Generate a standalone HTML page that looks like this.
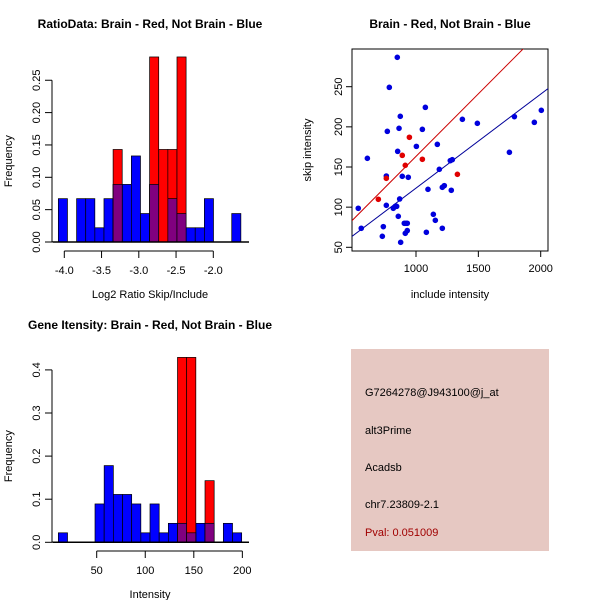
<!DOCTYPE html>
<html><head><meta charset="utf-8"><style>
body{margin:0;background:#fff}
svg{display:block;font-family:"Liberation Sans",sans-serif}
</style></head><body>
<svg id="c" width="600" height="600" viewBox="0 0 600 600">
<rect width="600" height="600" fill="#fff"/>
<g id="p1"></g>
<g id="p2"></g>
<g id="p3"></g>
<g>
<rect x="351" y="349" width="198" height="202" fill="#e6c8c2"/>
<text x="365" y="396" font-size="11" fill="#000">G7264278@J943100@j_at</text>
<text x="365" y="434" font-size="11" fill="#000">alt3Prime</text>
<text x="365" y="471" font-size="11" fill="#000">Acadsb</text>
<text x="365" y="508" font-size="11" fill="#000">chr7.23809-2.1</text>
<text x="365" y="536" font-size="11" fill="#a00000">Pval: 0.051009</text>
</g>
</svg>
<script>
// ---- Chart 1 data ----
const ratioStart = -4.08;
const ratioBinWidth = 0.1225;
const ratioBlue = [0.067,0,0.067,0.067,0.022,0.067,0.089,0.089,0.133,0.044,0.089,0,0.067,0.044,0.022,0.022,0.067,0,0,0.044];
const ratioRed  = [0,0,0,0,0,0,0.143,0,0,0,0.286,0.143,0.143,0.286,0,0,0,0,0,0];
const ratioXTicks = [-4.0,-3.5,-3.0,-2.5,-2.0];
const ratioXLabels = ["-4.0","-3.5","-3.0","-2.5","-2.0"];
const ratioYTicks = [0,0.05,0.10,0.15,0.20,0.25];
const ratioYLabels = ["0.00","0.05","0.10","0.15","0.20","0.25"];
// ---- Chart 3 data ----
const intStart = 10.5;
const intBinWidth = 9.44;
const intBlue = [0.022,0,0,0,0.089,0.178,0.111,0.111,0.089,0.022,0.089,0.022,0.044,0.044,0.022,0.044,0.044,0,0.044,0.022];
const intRed  = [0,0,0,0,0,0,0,0,0,0,0,0,0,0.429,0.429,0,0.143,0,0,0];
const intXTicks = [50,100,150,200];
const intYTicks = [0,0.1,0.2,0.3,0.4];
const intYLabels = ["0.0","0.1","0.2","0.3","0.4"];
// ---- Chart 2 data ----
const blueX = [537,561,610,738,730,762,770,786,818,834,845,850,853,858,864,869,874,890,906,914,920,930,930,938,877,1003,1051,1075,1083,1096,1139,1155,1171,1187,1211,1211,1227,1275,1283,1291,1372,1492,1749,1789,1949,2005,762];
const blueY = [98.6,73.7,160.8,75.7,63.7,138.8,194.4,249.2,98.6,101,101,286.6,169.5,88.6,198.2,110.2,213.1,138.4,79.9,67.4,79.9,79.9,70.8,137.2,56.2,175.7,196.9,224.3,68.7,122.2,91.1,83.6,178.2,147.1,73.7,124.7,126.8,157.9,121,159.1,209.4,204.4,168.3,212.7,205.6,220.6,102.3];
const redX = [698,762,890,914,947,1051,1332];
const redY = [109.8,135.9,164.5,152.1,187,159.6,140.9];
const fitSlope = [0.1558, 0.117];
const fitIntercept = [7.4, 6.7];
const scatXTicks = [1000,1500,2000];
const scatYTicks = [50,100,150,200,250];

const NS="http://www.w3.org/2000/svg";
function mk(parent,tag,attrs,txt){const e=document.createElementNS(NS,tag);for(const k in attrs)e.setAttribute(k,attrs[k]);if(txt!==undefined)e.textContent=txt;parent.appendChild(e);return e;}

function histogram(g,cfg){
  const sx=v=>cfg.x0+(v-cfg.d0)*cfg.kx, sy=v=>cfg.y0-v*cfg.ky;
  cfg.blue.forEach((v,i)=>{ if(v<=0)return;
    const a=cfg.start+i*cfg.bw,b=a+cfg.bw;
    const r=mk(g,'rect',{x:sx(a),y:sy(v),width:sx(b)-sx(a),height:sy(0)-sy(v),fill:'#0000ff',stroke:'#000','stroke-width':0.7});
    
    
  });
  cfg.red.forEach((v,i)=>{ if(v<=0)return;
    const a=cfg.start+i*cfg.bw,b=a+cfg.bw;
    const r=mk(g,'rect',{x:sx(a),y:sy(v),width:sx(b)-sx(a),height:sy(0)-sy(v),fill:'#ff0000',stroke:'#000','stroke-width':0.7});
    
    
    const m=Math.min(v,cfg.blue[i]);
    if(m>0){const p=mk(g,'rect',{x:sx(a),y:sy(m),width:sx(b)-sx(a),height:sy(0)-sy(m),fill:'#80007f',stroke:'#000','stroke-width':0.7});
      
      }
  });
  // baseline
  mk(g,'line',{x1:cfg.x0-6+ (sx(cfg.start)-cfg.x0),x2:cfg.xEnd,y1:sy(0),y2:sy(0),stroke:'#000','stroke-width':1.5});
  // y axis
  const ya=mk(g,'line',{x1:cfg.yAxisX,x2:cfg.yAxisX,y1:sy(cfg.yt[0]),y2:sy(cfg.yt[cfg.yt.length-1]),stroke:'#000','stroke-width':1});
  
  
  cfg.yt.forEach((t,i)=>{
    mk(g,'line',{x1:cfg.yAxisX-7,x2:cfg.yAxisX,y1:sy(t),y2:sy(t),stroke:'#000'});
    const tx=mk(g,'text',{x:cfg.yAxisX-12,y:sy(t),'font-size':11,'text-anchor':'middle',transform:`rotate(-90 ${cfg.yAxisX-12} ${sy(t)})`},cfg.yl[i]);
    
    
  });
  const xa=mk(g,'line',{x1:sx(cfg.xt[0]),x2:sx(cfg.xt[cfg.xt.length-1]),y1:cfg.xAxisY,y2:cfg.xAxisY,stroke:'#000'});
  
  
  cfg.xt.forEach((t,i)=>{
    mk(g,'line',{x1:sx(t),x2:sx(t),y1:cfg.xAxisY,y2:cfg.xAxisY+7,stroke:'#000'});
    const tx=mk(g,'text',{x:sx(t),y:cfg.xAxisY+23,'font-size':11,'text-anchor':'middle'},cfg.xl[i]);
    
    
  });
  const ti=mk(g,'text',{x:cfg.tx,y:cfg.ty,'font-size':12,'font-weight':'bold','text-anchor':'middle'},cfg.title);
  
  
  const xt=mk(g,'text',{x:cfg.tx,y:cfg.xAxisY+47,'font-size':11,'text-anchor':'middle'},cfg.xlabel);
  
  
  const yy=(sy(0)+sy(cfg.yt[cfg.yt.length-1]))/2;
  const yt=mk(g,'text',{x:12,y:yy,'font-size':11,'text-anchor':'middle',transform:`rotate(-90 12 ${yy})`},'Frequency');
  
  
}

histogram(document.getElementById('p1'),{x0:64.3,d0:-4.0,kx:74.5,y0:242,ky:647,start:ratioStart,bw:ratioBinWidth,
  blue:ratioBlue,red:ratioRed,xt:ratioXTicks,xl:ratioXLabels,yt:ratioYTicks,yl:ratioYLabels,yAxisX:52,xAxisY:251,xEnd:249,
  tx:150,ty:28,title:'RatioData: Brain - Red, Not Brain - Blue',xlabel:'Log2 Ratio Skip/Include'});
histogram(document.getElementById('p3'),{x0:96.7,d0:50,kx:0.971,y0:542.3,ky:431,start:intStart,bw:intBinWidth,
  blue:intBlue,red:intRed,xt:intXTicks,xl:intXTicks.map(String),yt:intYTicks,yl:intYLabels,yAxisX:52,xAxisY:551,xEnd:249,
  tx:150,ty:329,title:'Gene Itensity: Brain - Red, Not Brain - Blue',xlabel:'Intensity'});

// scatter
(function(){
  const g=document.getElementById('p2');
  const L=352,R=548,T=49,B=251;
  const sx=v=>416+(v-1000)*0.1247, sy=v=>247.3-(v-50)*0.803;
  const cp=mk(g,'clipPath',{id:'clp'});mk(cp,'rect',{x:L,y:T,width:R-L,height:B-T});
  const box=mk(g,'rect',{x:L,y:T,width:R-L,height:B-T,fill:'none',stroke:'#000'});
  
  
  const cols=['#ff0000','#0000c0'];
  fitSlope.forEach((s,i)=>{
    const xa=480,xb=2100;
    const ln=mk(g,'line',{x1:sx(xa),y1:sy(fitIntercept[i]+s*xa),x2:sx(xb),y2:sy(fitIntercept[i]+s*xb),stroke:i?'#000099':'#cc0000','stroke-width':1,'clip-path':'url(#clp)'});
    
    
  });
  blueX.forEach((x,i)=>{const c=mk(g,'circle',{cx:sx(x),cy:sy(blueY[i]),r:2.8,fill:'#0000dd'});
    
    });
  redX.forEach((x,i)=>{const c=mk(g,'circle',{cx:sx(x),cy:sy(redY[i]),r:2.8,fill:'#e00000'});
    
    });
  scatXTicks.forEach(t=>{mk(g,'line',{x1:sx(t),x2:sx(t),y1:B,y2:B+6,stroke:'#000'});
    const tx=mk(g,'text',{x:sx(t),y:B+21,'font-size':11,'text-anchor':'middle'},String(t));
    
    });
  scatYTicks.forEach(t=>{mk(g,'line',{x1:L-6,x2:L,y1:sy(t),y2:sy(t),stroke:'#000'});
    const tx=mk(g,'text',{x:L-10,y:sy(t),'font-size':11,'text-anchor':'middle',transform:`rotate(-90 ${L-10} ${sy(t)})`},String(t));
    
    });
  const ti=mk(g,'text',{x:450,y:28,'font-size':12,'font-weight':'bold','text-anchor':'middle'},'Brain - Red, Not Brain - Blue');
  
  
  const xt=mk(g,'text',{x:450,y:298,'font-size':11,'text-anchor':'middle'},'include intensity');
  
  
  const yt=mk(g,'text',{x:311,y:150,'font-size':11,'text-anchor':'middle',transform:'rotate(-90 311 150)'},'skip intensity');
  
  
})();
</script>
</body></html>
